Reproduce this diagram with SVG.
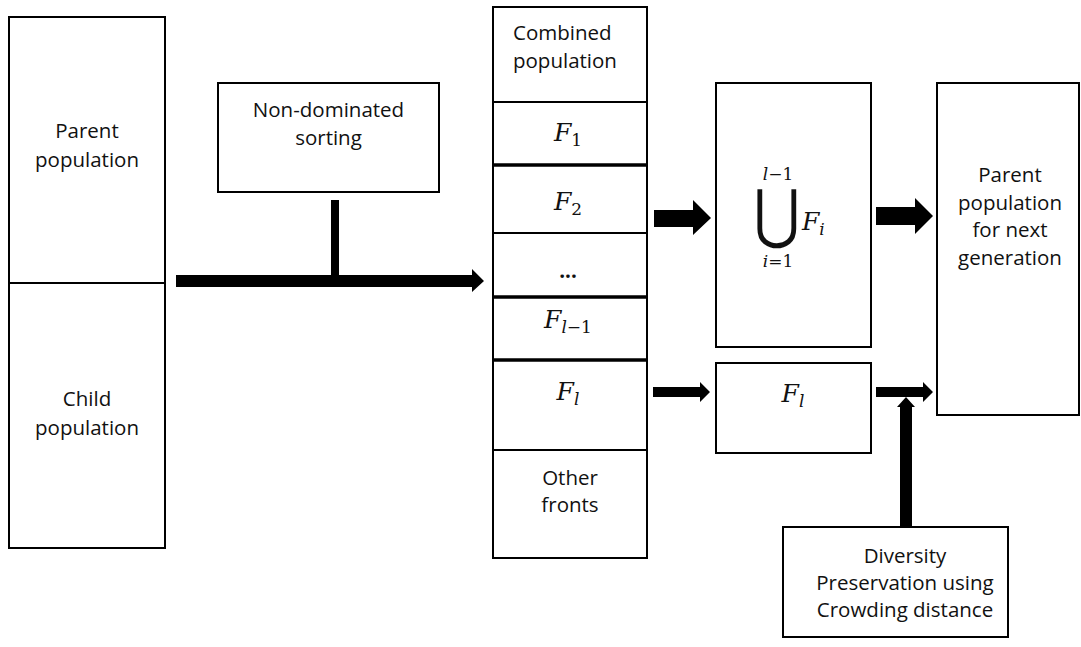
<svg xmlns="http://www.w3.org/2000/svg" width="1081" height="647" viewBox="0 0 1081 647">
  <style>
    .box { fill: #ffffff; stroke: #000000; stroke-width: 2; }
    .thin { stroke: #000000; stroke-width: 2; }
    .thick { stroke: #000000; stroke-width: 3.5; }
    .lbl { font-family: "Open Sans", "Liberation Sans", sans-serif; font-size: 20.5px; fill: #111111; text-anchor: middle; }
    .start { text-anchor: start; }
    .math { font-family: "DejaVu Serif", "Liberation Serif", serif; font-style: italic; font-size: 25px; fill: #111111; text-anchor: middle; }
    .sub { font-style: normal; font-size: 17px; }
    .subi { font-style: italic; font-size: 17px; }
    .lim { font-family: "DejaVu Serif", "Liberation Serif", serif; font-size: 17px; fill: #111111; text-anchor: middle; }
    .arrow { fill: #000000; }
  </style>

  <rect width="1081" height="647" fill="#ffffff"/>

  <!-- current parent and child populations -->
  <g id="populations">
    <rect class="box" x="9" y="17" width="156" height="531"/>
    <line class="thin" x1="9" y1="283" x2="165" y2="283"/>
    <text class="lbl" x="87" y="138">Parent</text>
    <text class="lbl" x="87" y="167">population</text>
    <text class="lbl" x="87" y="406">Child</text>
    <text class="lbl" x="87" y="435">population</text>
  </g>

  <g id="sorting">
    <rect class="box" x="218" y="83" width="221" height="109"/>
    <text class="lbl" x="328.5" y="117">Non-dominated</text>
    <text class="lbl" x="328.5" y="145">sorting</text>
  </g>

  <!-- combined population split into fronts -->
  <g id="combined">
    <rect class="box" x="493" y="7" width="154" height="551"/>
    <line class="thin" x1="493" y1="102" x2="647" y2="102"/>
    <line class="thick" x1="493" y1="165" x2="647" y2="165"/>
    <line class="thin" x1="493" y1="233" x2="647" y2="233"/>
    <line class="thick" x1="493" y1="297" x2="647" y2="297"/>
    <line class="thick" x1="493" y1="360" x2="647" y2="360"/>
    <line class="thin" x1="493" y1="450" x2="647" y2="450"/>
    <text class="lbl start" x="513" y="40">Combined</text>
    <text class="lbl start" x="513" y="68">population</text>
    <text class="math" x="568" y="141">F<tspan class="sub" dy="5">1</tspan></text>
    <text class="math" x="568" y="210">F<tspan class="sub" dy="5">2</tspan></text>
    <text class="lbl" x="568" y="278" style="font-weight:bold">...</text>
    <text class="math" x="568" y="328">F<tspan class="subi" dy="5">l</tspan><tspan class="sub">−1</tspan></text>
    <text class="math" x="568" y="400">F<tspan class="subi" dy="5">l</tspan></text>
    <text class="lbl" x="570" y="485">Other</text>
    <text class="lbl" x="570" y="512">fronts</text>
  </g>

  <g id="union">
    <rect class="box" x="716" y="83" width="155" height="264"/>
    <text class="lim" x="778" y="180"><tspan font-style="italic">l</tspan>−1</text>
    <text class="lim" x="778" y="267"><tspan font-style="italic">i</tspan>=1</text>
    <text transform="translate(777,236) scale(0.95,1.08)" x="0" y="0" font-family="DejaVu Sans, sans-serif" font-size="60" text-anchor="middle" fill="#111111">⋃</text>
    <text class="math" x="802" y="230" style="text-anchor:start">F<tspan class="subi" dy="5">i</tspan></text>
  </g>

  <g id="last-front">
    <rect class="box" x="716" y="363" width="155" height="90"/>
    <text class="math" x="793" y="402">F<tspan class="subi" dy="5">l</tspan></text>
  </g>

  <g id="next-parent">
    <rect class="box" x="937" y="83" width="142" height="332"/>
    <text class="lbl" x="1010" y="182">Parent</text>
    <text class="lbl" x="1010" y="209.5">population</text>
    <text class="lbl" x="1010" y="237">for next</text>
    <text class="lbl" x="1010" y="264.5">generation</text>
  </g>

  <g id="crowding">
    <rect class="box" x="783" y="527" width="225" height="110"/>
    <text class="lbl" x="905" y="563">Diversity</text>
    <text class="lbl" x="905" y="590">Preservation using</text>
    <text class="lbl" x="905" y="617">Crowding distance</text>
  </g>

  <!-- block arrows -->
  <g id="connectors">
    <rect class="arrow" x="331" y="200" width="8" height="77"/>
    <polygon class="arrow" points="176,275 472,275 472,269 484,281 472,292 472,287 176,287"/>
    <polygon class="arrow" points="654,210 693,210 693,200 711,218 693,235 693,227 654,227"/>
    <polygon class="arrow" points="876,207 915,207 915,198 933,216 915,234 915,225 876,225"/>
    <polygon class="arrow" points="653,387 700,387 700,382 710,392 700,402 700,397 653,397"/>
    <polygon class="arrow" points="876,387 923,387 923,382 933,392 923,402 923,397 876,397"/>
    <polygon class="arrow" points="900,527 900,407 897,407 906,397 915,407 912,407 912,527"/>
  </g>
</svg>
